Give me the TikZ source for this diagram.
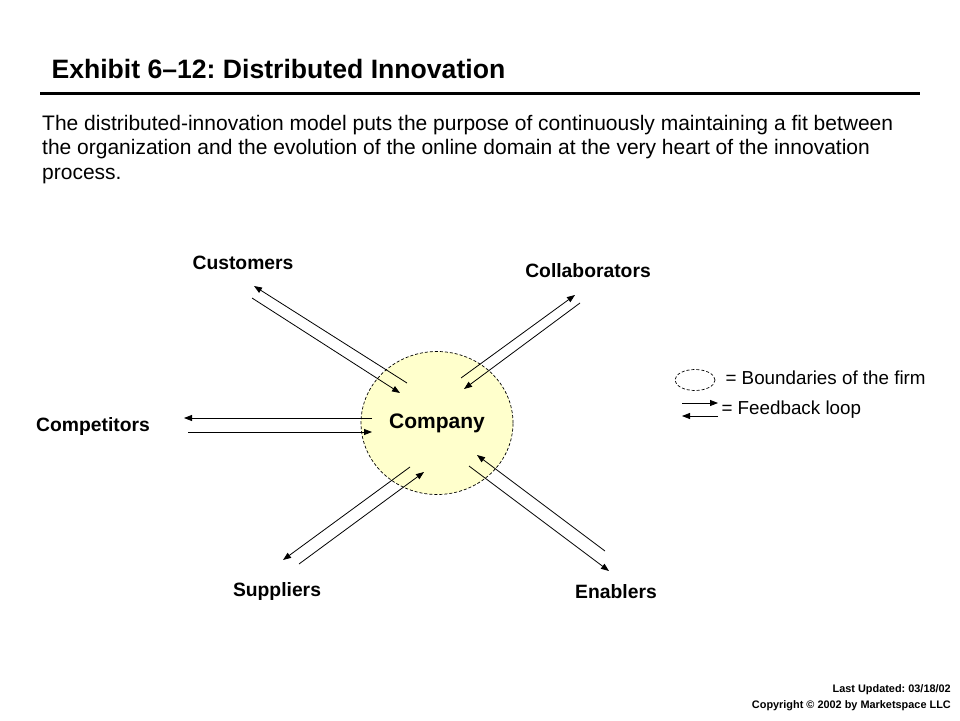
\documentclass[tikz,border=0pt]{standalone}
\usepackage{fontspec}
\setmainfont{Liberation Sans}
\usetikzlibrary{shapes.geometric,arrows.meta,positioning}

\definecolor{firmfill}{RGB}{255,255,204}
\frenchspacing

\begin{document}
\begin{tikzpicture}[x=1pt, y=-1pt,
  lbl/.style={font=\fontsize{19.3}{21}\selectfont\bfseries},
  leg/.style={anchor=west, font=\fontsize{18.8}{20}\selectfont},
  flow/.style={line width=0.8pt, -{Triangle[length=8pt, width=6pt]}},
  firm/.style={draw, ellipse, dashed, dash pattern=on 3pt off 2pt, line width=0.7pt}]
\useasboundingbox (0,0) rectangle (960,720);

% titel en tekst
\node[anchor=base west, font=\fontsize{26.6}{28}\selectfont\bfseries] (title) at (48,78) {Exhibit 6--12: Distributed Innovation};
\coordinate (ruleL) at (40,93);
\coordinate (ruleR) at (920,93);
\draw[line width=3pt] (ruleL) -- (ruleR);
\node[anchor=base west, align=left, inner sep=0pt, font=\fontsize{21}{24.5}\selectfont] (intro) at (42,179)
  {The distributed-innovation model puts the purpose of continuously maintaining a fit between\\
   the organization and the evolution of the online domain at the very heart of the innovation\\
   process.};

% bedrijf
\node[firm, fill=firmfill, minimum width=152pt, minimum height=143pt, font=\fontsize{21}{23}\selectfont\bfseries] (company) at (437,423) {\raisebox{-3pt}{Company}};

% partijen
\node[lbl] (customers) at (243,263) {Customers};
\node[lbl] (collab) at (588,271) {Collaborators};
\node[lbl] (competitors) at (93,427) {Competitors};
\node[lbl] (suppliers) at (277,592) {Suppliers};
\node[lbl] (enablers) at (616,592) {Enablers};

% eindpunten
\coordinate (cuIn1) at (407,383);  \coordinate (cuOut1) at (254,286);
\coordinate (cuOut2) at (252,298); \coordinate (cuIn2) at (400,393);
\coordinate (coIn1) at (461,378);  \coordinate (coOut1) at (575,295);
\coordinate (coOut2) at (580,303); \coordinate (coIn2) at (464,389);
\coordinate (cpIn1) at (372,418);  \coordinate (cpOut1) at (184,418);
\coordinate (cpOut2) at (188,432); \coordinate (cpIn2) at (372,432);
\coordinate (suIn1) at (410,467);  \coordinate (suOut1) at (283,560);
\coordinate (suOut2) at (299,564); \coordinate (suIn2) at (424,472);
\coordinate (enOut1) at (605,551); \coordinate (enIn1) at (477,455);
\coordinate (enIn2) at (469,466);  \coordinate (enOut2) at (609,571);

% terugkoppeling
\draw[flow] (cuIn1) -- (cuOut1);
\draw[flow] (cuOut2) -- (cuIn2);
\draw[flow] (coIn1) -- (coOut1);
\draw[flow] (coOut2) -- (coIn2);
\draw[flow] (cpIn1) -- (cpOut1);
\draw[flow] (cpOut2) -- (cpIn2);
\draw[flow] (suIn1) -- (suOut1);
\draw[flow] (suOut2) -- (suIn2);
\draw[flow] (enOut1) -- (enIn1);
\draw[flow] (enIn2) -- (enOut2);

% legenda
\node[firm, minimum width=40pt, minimum height=21pt] (legfirm) at (695,380) {};
\node[leg] (legfirmtxt) at (722,378) {= Boundaries of the firm};
\coordinate (lgA) at (682,403); \coordinate (lgB) at (718,403);
\coordinate (lgC) at (718,416); \coordinate (lgD) at (682,416);
\draw[flow] (lgA) -- (lgB);
\draw[flow] (lgC) -- (lgD);
\node[leg] (legloop) at (718,410) {= Feedback loop};

% voettekst
\node[anchor=base east, font=\fontsize{10.9}{12}\selectfont\bfseries, inner sep=0pt] (updated) at (951,692) {Last Updated: 03/18/02};
\node[anchor=base east, font=\fontsize{10.9}{12}\selectfont\bfseries, inner sep=0pt] (copyright) at (951,708) {Copyright © 2002 by Marketspace LLC};
\end{tikzpicture}
\end{document}
